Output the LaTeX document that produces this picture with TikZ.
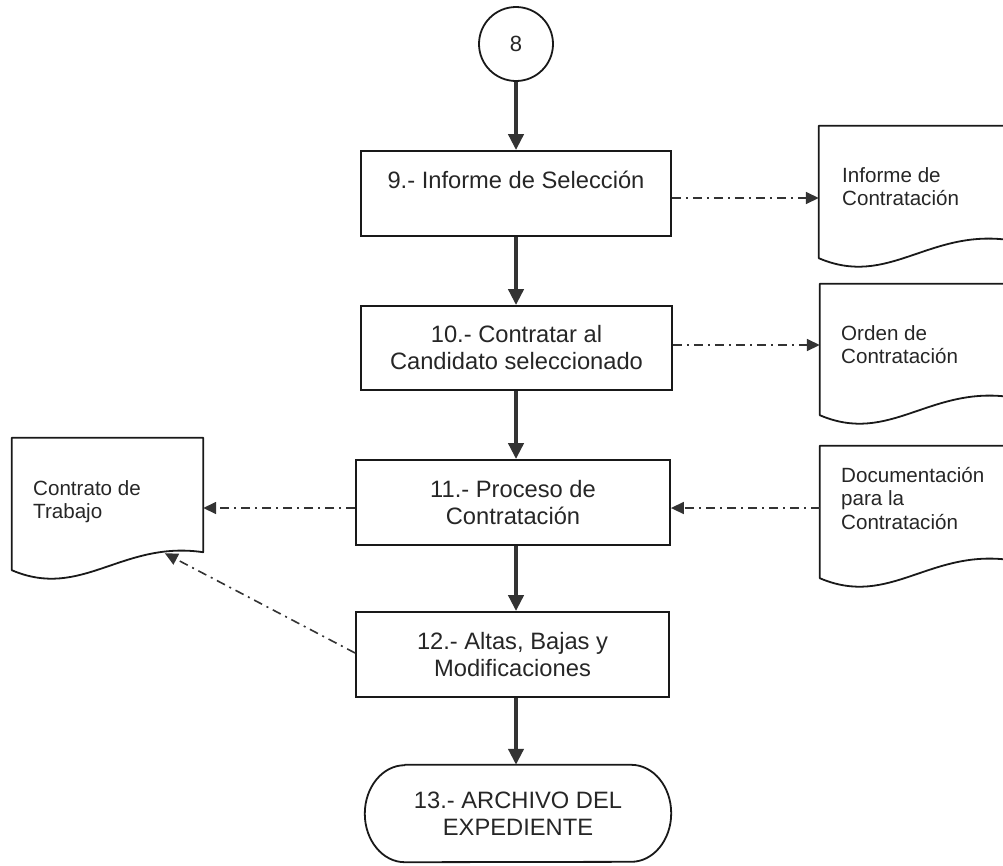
\documentclass[tikz,border=0pt]{standalone}
\usepackage{fontspec}
\setmainfont{Liberation Sans}
\usetikzlibrary{arrows.meta,calc}
\newcommand\mydocshape[1]{%
  \draw[docline] (#1.south west) -- (#1.north west) -- (#1.north east) -- ($(#1.south east)+(0,18)$)
    .. controls ($(#1.south west)+(110,30)$) and ($(#1.south west)+(70,-30)$) .. (#1.south west) -- cycle;}
\newcommand\myterminal[1]{%
  \draw[docline] ($(#1.north west)+(40,0)$) -- ($(#1.north east)+(-40,0)$)
    arc[start angle=90,end angle=-90,x radius=40,y radius=48.5]
    -- ($(#1.south west)+(40,0)$)
    arc[start angle=270,end angle=90,x radius=40,y radius=48.5] -- cycle;}
\begin{document}
\begin{tikzpicture}[x=1pt,y=1pt,
 box/.style={draw=black!90, line width=1.8pt, inner sep=0pt, align=center, font=\fontsize{23.7}{27}\selectfont, text=black!85},
 term/.style={inner sep=0pt, align=center, font=\fontsize{23.7}{27}\selectfont, text=black!85},
 doc/.style={inner sep=0pt, minimum width=191pt, minimum height=132pt},
 docline/.style={draw=black!90, line width=1.8pt, line join=round},
 doctext/.style={inner sep=0pt, align=left, anchor=north west, font=\fontsize{20.6}{23.5}\selectfont, text=black!85},
 main/.style={draw=black!80, line width=4pt, -{Triangle[length=16pt,width=15pt]}},
 aux/.style={draw=black!80, line width=1.6pt, dash pattern=on 9pt off 5pt on 2pt off 5pt, -{Triangle[length=13pt,width=12pt]}}
]
\useasboundingbox (0,0) rectangle (1003,-865);
\clip (0,0) rectangle (1003,-865);
\coordinate (ax) at (516,0);

% main flow
\node[box, circle, minimum size=74pt, font=\fontsize{22}{24}\selectfont] (c8) at (516,-44) {8};
\node[box, minimum width=310pt, minimum height=85pt] (b9) at (516,-193.5) {9.- Informe de Selección\\\mbox{}};
\node[box, minimum width=311pt, minimum height=84pt] (b10) at (516.5,-348) {10.- Contratar al\\Candidato seleccionado};
\node[box, minimum width=314pt, minimum height=85pt] (b11) at (513,-502.5) {11.- Proceso de\\Contratación};
\node[box, minimum width=313pt, minimum height=85pt] (b12) at (512.5,-654.5) {12.- Altas, Bajas y\\Modificaciones};
\node[term, minimum width=306pt, minimum height=97pt] (t13) at (518,-813.5) {13.- ARCHIVO DEL\\EXPEDIENTE};
\myterminal{t13}

% documents
\node[doc] (d1) at (914.5,-192) {};
\node[doc, minimum height=131pt] (d2) at (915.5,-349.5) {};
\node[doc] (d3) at (915.5,-512) {};
\node[doc] (dL) at (107.5,-504) {};
\mydocshape{d1}
\mydocshape{d2}
\mydocshape{d3}
\mydocshape{dL}
\node[doctext] (d1t) at (842,-167) {Informe de\\Contratación};
\node[doctext] (d2t) at (841,-325) {Orden de\\Contratación};
\node[doctext] (d3t) at (841,-467) {Documentación\\para la\\Contratación};
\node[doctext] (dLt) at (33,-480) {Contrato de\\Trabajo};
\coordinate (dLw) at ($(dL.south west)+(153,17)$);

% main arrows
\draw[main] (c8.south -| ax) -- (b9.north -| ax);
\draw[main] (b9.south -| ax) -- (b10.north -| ax);
\draw[main] (b10.south -| ax) -- (b11.north -| ax);
\draw[main] (b11.south -| ax) -- (b12.north -| ax);
\draw[main] (b12.south -| ax) -- (t13.north -| ax);

% document flows
\draw[aux] (b9.east |- 0,-198) -- (d1.west |- 0,-198);
\draw[aux] (b10.east |- 0,-345) -- (d2.west |- 0,-345);
\draw[aux] (d3.west |- 0,-508) -- (b11.east |- 0,-508);
\draw[aux] (b11.west |- 0,-508) -- (dL.east |- 0,-508);
\draw[aux] (b12.west |- 0,-653) -- (dLw);
\end{tikzpicture}
\end{document}
